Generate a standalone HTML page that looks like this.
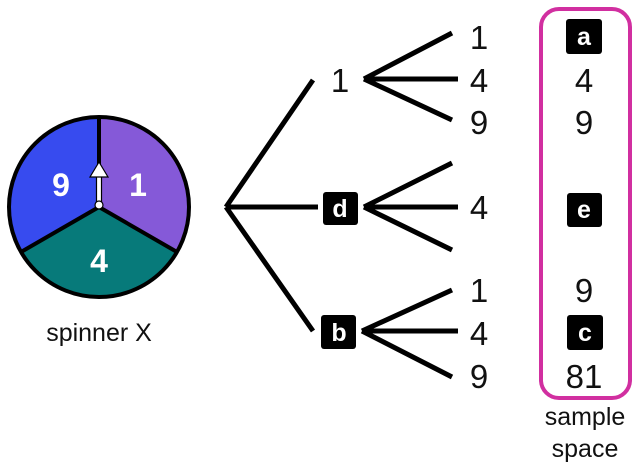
<!DOCTYPE html>
<html><head><style>html,body{margin:0;padding:0;background:#fff;}svg{display:block}</style></head>
<body>
<svg width="640" height="468" viewBox="0 0 640 468" xmlns="http://www.w3.org/2000/svg" font-family="Liberation Sans, sans-serif">
<path d="M99,207 L99,117 A90,90 0 0 1 177,252 Z" fill="#8559d8"/>
<path d="M99,207 L99,117 A90,90 0 0 0 21,252 Z" fill="#374bef"/>
<path d="M99,207 L21,252 A90,90 0 0 0 177,252 Z" fill="#077a7a"/>
<circle cx="99" cy="207" r="90" fill="none" stroke="#000" stroke-width="4"/>
<path d="M99,117 L99,207 M99,207 L21,252 M99,207 L177,252" stroke="#000" stroke-width="4" fill="none"/>
<rect x="96.5" y="175" width="5" height="30" fill="#fff" stroke="#000" stroke-width="1.2"/>
<polygon points="99,162 108,177 90,177" fill="#fff" stroke="#000" stroke-width="1.2"/>
<circle cx="99" cy="205" r="4" fill="#fff" stroke="#000" stroke-width="1.2"/>
<g fill="#fff" font-size="32" font-weight="bold" text-anchor="middle">
<text x="61" y="196">9</text><text x="138" y="196">1</text><text x="99" y="272">4</text>
</g>
<text x="99" y="341" font-size="25" text-anchor="middle" fill="#111">spinner X</text>
<g stroke="#000" stroke-width="5" stroke-linecap="butt" fill="none">
<path d="M226,207 L313,80 M226,207 L318,207 M226,207 L313,331"/>
<path d="M364,79 L452,33 M364,79 L458,79 M364,79 L452,120"/>
<path d="M364,207 L452,163 M364,207 L458,207 M364,207 L452,250"/>
<path d="M362,331 L452,290 M362,331 L458,331 M362,331 L452,377"/>
</g>
<g font-size="33" text-anchor="middle" fill="#111">
<text x="340" y="92">1</text>
<text x="479" y="49">1</text><text x="479" y="92">4</text><text x="479" y="134">9</text>
<text x="479" y="219">4</text>
<text x="479" y="302">1</text><text x="479" y="345">4</text><text x="479" y="388">9</text>
</g>
<rect x="323" y="192" width="35" height="33" rx="3" fill="#000"/>
<rect x="321" y="315" width="35" height="34" rx="3" fill="#000"/>
<g font-size="25" font-weight="bold" fill="#fff" text-anchor="middle">
<text x="340" y="217">d</text><text x="339" y="341">b</text>
</g>
<rect x="541" y="9" width="89" height="389" rx="18" fill="none" stroke="#d12fa0" stroke-width="4"/>
<rect x="566" y="19" width="36" height="35" rx="3" fill="#000"/>
<rect x="567" y="193" width="35" height="34" rx="3" fill="#000"/>
<rect x="567" y="315" width="36" height="35" rx="3" fill="#000"/>
<g font-size="25" font-weight="bold" fill="#fff" text-anchor="middle">
<text x="584" y="45">a</text><text x="584" y="218">e</text><text x="585" y="341">c</text>
</g>
<g font-size="33" text-anchor="middle" fill="#111">
<text x="584" y="92">4</text><text x="584" y="134">9</text>
<text x="584" y="302">9</text><text x="584" y="388">81</text>
</g>
<g font-size="25" text-anchor="middle" fill="#111">
<text x="585" y="425">sample</text><text x="585" y="457">space</text>
</g>
</svg>
</body></html>
